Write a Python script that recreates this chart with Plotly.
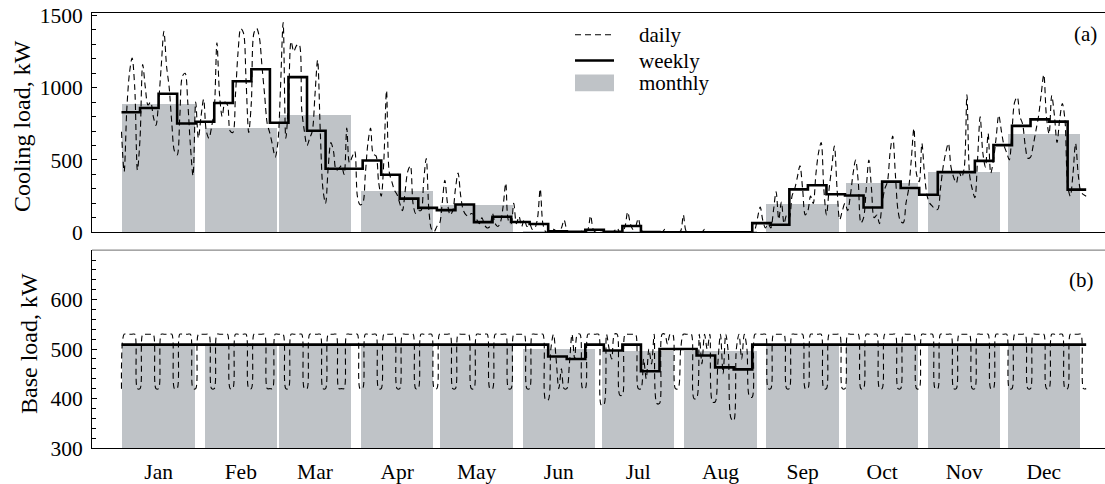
import numpy as np
import plotly.graph_objects as go

# ---------------- data ----------------
months = ["Jan", "Feb", "Mar", "Apr", "May", "Jun",
          "Jul", "Aug", "Sep", "Oct", "Nov", "Dec"]
days_in_month = [31, 28, 31, 30, 31, 30, 31, 31, 30, 31, 30, 31]

# cooling load, kW
cooling_daily = [
    695, 420, 850, 1100, 1205, 1000, 430,
    650, 1160, 1000, 880, 900, 800, 740,
    900, 1150, 1390, 1150, 1000, 750, 560,
    535, 800, 1080, 1100, 900, 600, 390,
    900, 650, 800, 920, 700, 650, 730,
    850, 1310, 950, 800, 900, 880, 700,
    690, 950, 1250, 1410, 1380, 1050, 690,
    900, 1380, 1410, 1350, 1150, 950, 750,
    684, 600, 520, 620, 1000, 1450, 650,
    900, 1320, 1250, 1290, 1300, 850, 700,
    600, 650, 700, 950, 1190, 700, 300,
    200, 450, 620, 560, 430, 440, 460,
    400, 720, 480, 520, 560, 250, 190,
    200, 400, 620, 720, 540, 530, 350,
    250, 500, 980, 420, 350, 290, 260,
    200, 150, 280, 420, 460, 200, 130,
    150, 150, 350, 510, 150, 20, 5,
    40, 60, 200, 360, 200, 120, 150,
    300, 410, 250, 150, 120, 110, 130,
    120, 90, 60, 100, 50, 30, 40,
    130, 60, 40, 70, 180, 340, 80,
    60, 200, 60, 110, 40, 90, 40,
    60, 20, 30, 100, 300, 60, 5,
    0, 5, 20, 10, 5, 30, 85,
    20, 0, 0, 0, 0, 0, 10,
    0, 20, 115, 20, 0, 0, 0,
    0, 0, 0, 0, 10, 30, 0,
    0, 40, 140, 60, 20, 40, 95,
    20, 0, 0, 0, 0, 0, 0,
    0, 0, 20, 0, 0, 0, 0,
    0, 10, 120, 10, 0, 0, 0,
    0, 0, 0, 20, 0, 0, 0,
    0, 0, 0, 0, 0, 0, 0,
    0, 0, 0, 0, 0, 0, 0,
    0, 20, 100, 175, 80, 30, 60,
    30, 150, 280, 90, 210, 60, 120,
    100, 250, 300, 380, 460, 300, 120,
    150, 250, 200, 400, 550, 620, 300,
    120, 300, 450, 596, 300, 87, 150,
    200, 150, 250, 400, 500, 350, 64,
    100, 300, 500, 300, 100, 120, 60,
    200, 300, 350, 550, 665, 400, 150,
    75, 66, 200, 300, 500, 718, 400,
    350, 615, 400, 250, 200, 180, 160,
    158, 300, 450, 550, 615, 450, 380,
    340, 420, 380, 450, 950, 400, 300,
    240, 500, 798, 550, 450, 684, 409,
    500, 650, 810, 700, 600, 550, 501,
    700, 900, 935, 800, 750, 600, 512,
    520, 600, 700, 800, 950, 1090, 800,
    680, 946, 810, 620, 780, 891, 775,
    330, 250, 400, 615, 400, 280, 260,
    250,
]
cooling_weekly = [
    830, 860, 958, 752, 764, 894, 1045, 1127, 757, 1073, 702, 439, 439,
    496, 398, 233, 169, 153, 192, 70, 107, 71, 57, 7, 3, 18,
    3, 43, 2, 0, 0, 0, 0, 0, 63, 52, 297, 325, 263, 254, 171,
    350, 306, 260, 416, 416, 494, 603, 736, 781, 765, 295,
]
cooling_monthly = [889, 718, 814, 283, 192, 12, 10, 3, 197, 339, 416, 677]

# base load, kW
base_daily = [
    420, 530, 530, 530, 530, 530, 420,
    420, 530, 530, 530, 530, 530, 420,
    420, 530, 530, 530, 530, 530, 420,
    420, 530, 530, 530, 530, 530, 420,
    420, 530, 530, 530, 530, 530, 420,
    420, 530, 530, 530, 530, 530, 420,
    420, 530, 530, 530, 530, 530, 420,
    420, 530, 530, 530, 530, 530, 420,
    420, 420, 530, 530, 530, 530, 420,
    420, 530, 530, 530, 530, 530, 420,
    420, 530, 530, 530, 530, 530, 420,
    420, 530, 530, 530, 530, 420, 420,
    420, 530, 530, 530, 530, 530, 420,
    420, 530, 530, 530, 530, 530, 420,
    420, 530, 530, 530, 530, 530, 420,
    420, 530, 530, 530, 530, 530, 420,
    420, 530, 530, 530, 530, 530, 420,
    420, 530, 530, 530, 530, 530, 420,
    420, 530, 530, 530, 530, 530, 420,
    420, 530, 530, 530, 530, 530, 420,
    420, 530, 530, 530, 530, 530, 420,
    420, 530, 530, 530, 530, 530, 420,
    420, 530, 530, 530, 530, 530, 397,
    397, 500, 530, 480, 420, 460, 420,
    420, 470, 530, 480, 530, 530, 420,
    420, 530, 530, 530, 530, 530, 387,
    387, 530, 500, 480, 530, 530, 407,
    407, 530, 530, 530, 530, 530, 420,
    420, 480, 440, 500, 470, 530, 390,
    390, 530, 530, 510, 530, 530, 420,
    420, 500, 530, 530, 530, 530, 400,
    400, 530, 470, 530, 500, 530, 393,
    393, 470, 530, 450, 530, 490, 360,
    355, 500, 530, 480, 530, 500, 403,
    403, 530, 530, 530, 530, 530, 420,
    420, 530, 530, 530, 530, 530, 420,
    420, 530, 530, 530, 530, 530, 420,
    420, 530, 530, 530, 530, 530, 420,
    420, 530, 530, 530, 530, 530, 420,
    420, 530, 530, 530, 530, 530, 420,
    420, 530, 530, 530, 530, 530, 420,
    420, 530, 530, 530, 530, 530, 420,
    420, 530, 530, 530, 530, 530, 420,
    420, 530, 530, 530, 530, 530, 420,
    420, 530, 530, 530, 530, 530, 420,
    420, 530, 530, 530, 530, 530, 420,
    420, 530, 530, 530, 530, 530, 420,
    420, 530, 530, 530, 530, 530, 420,
    420, 530, 530, 530, 530, 530, 420,
    420, 530, 530, 530, 530, 530, 420,
    420, 530, 530, 530, 530, 530, 420,
    420, 530, 530, 530, 530, 530, 420,
    420,
]
base_weekly = [
    509, 509, 509, 509, 509, 509, 509, 509, 509, 509, 509, 509, 509,
    509, 509, 509, 509, 509, 509, 509, 509, 509, 509, 485, 480, 509,
    497, 509, 455, 500, 500, 487, 463, 459, 509, 509, 509, 509, 509,
    509, 509, 509, 509, 509, 509, 509, 509, 509, 509, 509, 509, 509,
]
base_monthly = [507, 507, 507, 507, 507, 500, 495, 495, 507, 507, 507, 507]

legend_labels = ["daily", "weekly", "monthly"]

# ---------------- geometry helpers ----------------
W, H = 1105, 484
ML, MR, MT, MB = 92, 0, 13, 32
PW, PH = W - ML - MR, H - MT - MB


def px_x(px):
    return (px - ML) / PW


def px_y(py):
    return (H - MB - py) / PH


FONT = "Times New Roman, Liberation Serif, DejaVu Serif, serif"
GRAY = "rgb(191,195,199)"
DASH = "6px,4px"

day = np.arange(len(cooling_daily))
month_start = np.concatenate([[0], np.cumsum(days_in_month)[:-1]])
bar_center = month_start + 14
week_x = np.concatenate([np.arange(len(cooling_weekly)) * 7, [len(cooling_daily) - 1]])

fig = go.Figure()

panels = [
    ("x", "y", cooling_daily, cooling_weekly, cooling_monthly),
    ("x2", "y2", base_daily, base_weekly, base_monthly),
]
for xa, ya, daily, weekly, monthly in panels:
    fig.add_trace(go.Bar(
        x=bar_center, y=monthly, width=27.3, xaxis=xa, yaxis=ya,
        marker=dict(color=GRAY, line=dict(width=0)), showlegend=False))
    fig.add_trace(go.Scatter(
        x=day, y=daily, mode="lines", xaxis=xa, yaxis=ya,
        line=dict(color="black", width=1.1, dash=DASH, shape="spline", smoothing=0.9),
        showlegend=False))
    fig.add_trace(go.Scatter(
        x=week_x, y=list(weekly) + [weekly[-1]], mode="lines", xaxis=xa, yaxis=ya,
        line=dict(color="black", width=2.6, shape="hv"), showlegend=False))

xrange = [-11.13, 371.1]
tick_font = dict(family=FONT, size=21.5, color="black")

common_x = dict(range=xrange, showgrid=False, zeroline=False, ticks="",
                showline=True, linecolor="black", linewidth=1)
fig.update_layout(
    xaxis=dict(**common_x, anchor="y", showticklabels=False, mirror=True),
    xaxis2=dict(**common_x, anchor="y2", tickvals=bar_center, ticktext=months,
                tickfont=tick_font, ticklabelstandoff=4),
    yaxis=dict(domain=[px_y(234.3), 1.0], range=[0, 1516.5], anchor="x",
               tickvals=[0, 500, 1000, 1500], ticks="inside", ticklen=5,
               tickcolor="black", minor=dict(ticks="inside", dtick=100, ticklen=4,
                                             tickcolor="black"),
               showline=True, linecolor="black", linewidth=1, showgrid=False,
               zeroline=False, tickfont=tick_font, ticklabelstandoff=4),
    yaxis2=dict(domain=[0.0, px_y(252.3)], range=[300, 700], anchor="x2",
                tickvals=[300, 400, 500, 600], ticks="inside", ticklen=5,
                tickcolor="black", minor=dict(ticks="inside", dtick=20, ticklen=4,
                                              tickcolor="black"),
                showline=True, linecolor="black", linewidth=1, showgrid=False,
                zeroline=False, tickfont=tick_font, ticklabelstandoff=4),
    width=W, height=H,
    margin=dict(l=ML, r=MR, t=MT, b=MB),
    paper_bgcolor="white", plot_bgcolor="white",
    bargap=0, showlegend=False,
)

# top border of the lower panel
fig.add_shape(type="line", xref="paper", yref="paper",
              x0=0, x1=1.02, y0=px_y(252.3), y1=px_y(252.3),
              line=dict(color="rgb(110,110,110)", width=1))

# hand-drawn legend
lx0, lx1 = px_x(575), px_x(614)
fig.add_shape(type="line", xref="paper", yref="paper", x0=lx0, x1=lx1,
              y0=px_y(35), y1=px_y(35), line=dict(color="black", width=1.1, dash=DASH))
fig.add_shape(type="line", xref="paper", yref="paper", x0=lx0, x1=lx1,
              y0=px_y(61), y1=px_y(61), line=dict(color="black", width=2.6))
fig.add_shape(type="rect", xref="paper", yref="paper", x0=lx0, x1=lx1,
              y0=px_y(92), y1=px_y(75), fillcolor=GRAY, line=dict(width=0))
for label, py in zip(legend_labels, [35, 61, 84]):
    fig.add_annotation(x=px_x(637), y=px_y(py), xref="paper", yref="paper",
                       text=label, showarrow=False, xanchor="left", yanchor="middle",
                       font=dict(family=FONT, size=21, color="black"))

# panel tags
fig.add_annotation(x=px_x(1085), y=px_y(34), xref="paper", yref="paper", text="(a)",
                   showarrow=False, xanchor="center", yanchor="middle",
                   font=dict(family=FONT, size=21, color="black"))
fig.add_annotation(x=px_x(1081), y=px_y(282), xref="paper", yref="paper", text="(b)",
                   showarrow=False, xanchor="center", yanchor="middle",
                   font=dict(family=FONT, size=21, color="black"))

# axis titles
fig.add_annotation(x=px_x(22), y=px_y(127), xref="paper", yref="paper",
                   text="Cooling load, kW", textangle=-90, showarrow=False,
                   xanchor="center", yanchor="middle",
                   font=dict(family=FONT, size=24, color="black"))
fig.add_annotation(x=px_x(29), y=px_y(347), xref="paper", yref="paper",
                   text="Base load, kW", textangle=-90, showarrow=False,
                   xanchor="center", yanchor="middle",
                   font=dict(family=FONT, size=24, color="black"))

fig.write_html("out.html")
